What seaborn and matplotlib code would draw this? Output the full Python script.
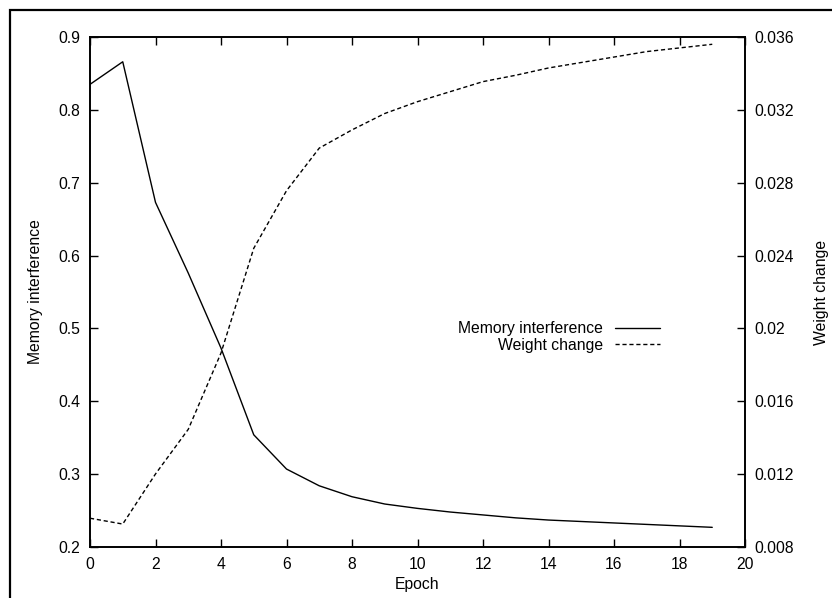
import matplotlib
matplotlib.use("Agg")
import matplotlib.pyplot as plt
import seaborn as sns
import pandas as pd
from matplotlib.patches import Rectangle

epochs = list(range(20))
memory_interference = [0.835, 0.866, 0.673, 0.576, 0.473, 0.354, 0.307, 0.284, 0.269, 0.259,
                       0.253, 0.248, 0.244, 0.240, 0.237, 0.235, 0.233, 0.231, 0.229, 0.227]
weight_change = [0.00958, 0.00926, 0.01201, 0.01446, 0.01865, 0.0244, 0.02756, 0.0299, 0.0309, 0.0318,
                 0.03245, 0.0330, 0.03355, 0.0339, 0.0343, 0.0346, 0.0349, 0.0352, 0.0354, 0.0356]

xticks = list(range(0, 21, 2))
left_ticks = [0.2, 0.3, 0.4, 0.5, 0.6, 0.7, 0.8, 0.9]
right_ticks = [0.008, 0.012, 0.016, 0.02, 0.024, 0.028, 0.032, 0.036]
right_ticklabels = ["0.008", "0.012", "0.016", "0.02", "0.024", "0.028", "0.032", "0.036"]

FS = 11.3
sns.set_style("white")
plt.rcParams['font.family'] = ['Liberation Sans', 'DejaVu Sans']
plt.rcParams['font.size'] = FS
plt.rcParams['text.color'] = 'black'
plt.rcParams['axes.labelcolor'] = 'black'

df = pd.DataFrame({"Epoch": epochs, "mi": memory_interference, "wc": weight_change})

fig = plt.figure(figsize=(8.32, 5.98), dpi=100)
ax = fig.add_axes([90/832, 1-547/598, (745-90)/832, (547-37)/598])
ax2 = ax.twinx()

sns.lineplot(data=df, x="Epoch", y="mi", ax=ax, color="black", lw=1.0, label="Memory interference", legend=False)
sns.lineplot(data=df, x="Epoch", y="wc", ax=ax2, color="black", lw=1.0, linestyle=(0, (3, 2)),
             label="Weight change", legend=False)

ax.set_xlim(0, 20)
ax.set_ylim(0.2, 0.9)
ax2.set_ylim(0.008, 0.036)
ax.set_xticks(xticks)
ax.set_xticklabels([str(t) for t in xticks])
ax.set_yticks(left_ticks)
ax.set_yticklabels([f"{t:g}" for t in left_ticks])
ax2.set_yticks(right_ticks)
ax2.set_yticklabels(right_ticklabels)

ax.set_xlabel("Epoch", labelpad=4, fontsize=FS, color="black")
ax.set_ylabel("Memory interference", labelpad=11, fontsize=FS, color="black")
ax2.set_ylabel("Weight change", labelpad=14, fontsize=FS, color="black")

ax.tick_params(axis="x", direction="in", length=6, width=1, top=True, bottom=True, pad=7, colors="black", labelsize=FS)
ax.tick_params(axis="y", direction="in", length=6, width=1, left=True, right=False, pad=7, colors="black", labelsize=FS)
ax2.tick_params(axis="y", direction="in", length=6, width=1, right=True, left=False, pad=7, colors="black", labelsize=FS)
for a in (ax, ax2):
    for s in a.spines.values():
        s.set_color("black")
        s.set_linewidth(1.2)

h1, l1 = ax.get_legend_handles_labels()
h2, l2 = ax2.get_legend_handles_labels()
leg = ax.legend(h1 + h2, l1 + l2, loc="center right", bbox_to_anchor=(0.8705, 0.412), frameon=False,
                markerfirst=False, handlelength=2.9, handletextpad=0.75, labelspacing=0.08, fontsize=FS,
                borderaxespad=0.0, borderpad=0.0)
for t in leg.get_texts():
    t.set_color("black")

top = 1 - 10/598
fig.patches.append(Rectangle((10/832, -0.1), 1.2, top + 0.1, transform=fig.transFigure,
                             fill=False, edgecolor="black", linewidth=1.6, clip_on=False))

fig.savefig("out.png", dpi=100)
